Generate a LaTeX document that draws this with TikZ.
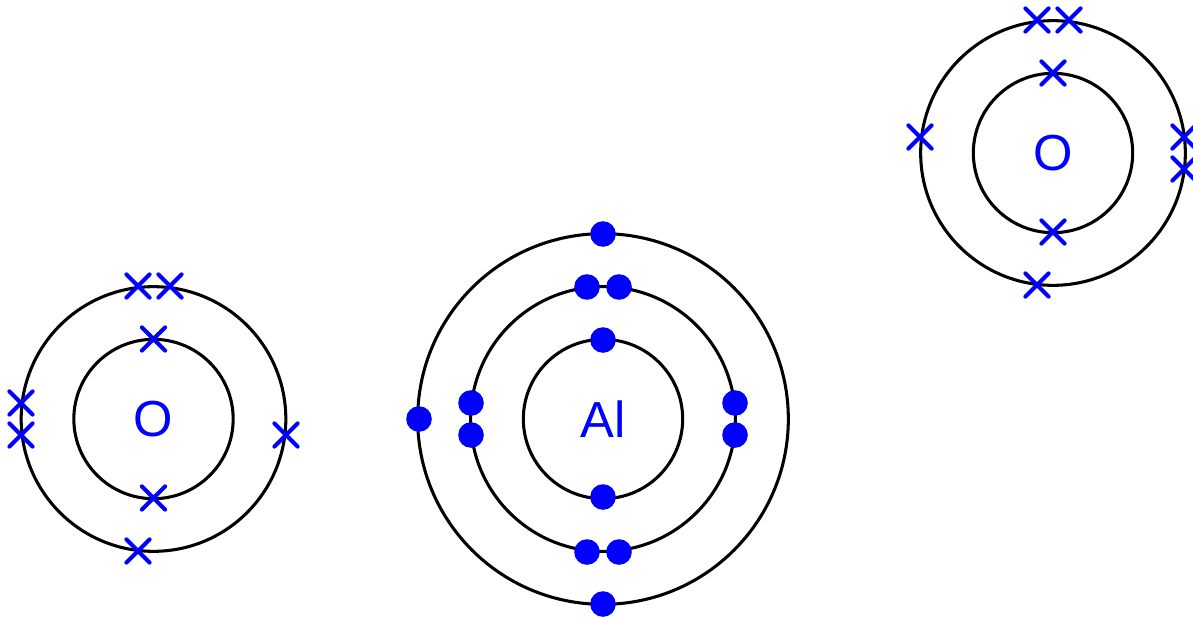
\documentclass[tikz,border=0pt]{standalone}
\usepackage{fontspec}
\setmainfont{Liberation Sans}
\usetikzlibrary{shapes.misc}
\definecolor{eblue}{RGB}{0,0,255}
\tikzset{
 shell/.style={circle,draw=black,line width=2.3pt,fill=none,inner sep=0pt,minimum size=#1},
 dotel/.style={circle,fill=eblue,inner sep=0pt,minimum size=19.2pt},
 crossel/.style={cross out,draw=eblue,line width=3pt,line cap=round,inner sep=0pt,minimum size=14.5pt},
 nuc/.style={text=eblue,font=\fontsize{38}{42}\selectfont,inner sep=0pt}
}
\begin{document}
\begin{tikzpicture}[x=0.75pt,y=-0.75pt]
\useasboundingbox (0,0) rectangle (1193,617);
% left O
\node[shell=119.5pt] (a1) at (153.5,419) {};
\node[shell=198.5pt] (a2) at (153.5,419) {};
\node[nuc] (aO) at (153.5,419) {O};
\foreach \n/\x/\y in {a/138/286,b/170/286,c/153.5/339,d/153.5/498,e/138/551,f/21/403,g/21/435,h/286/435}
  \node[crossel] (ax\n) at (\x,\y) {};
% Al
\node[shell=119.5pt] (b1) at (603,419) {};
\node[shell=198.5pt] (b2) at (603,419) {};
\node[shell=278pt] (b3) at (603,419) {};
\node[nuc] (bAl) at (603,419) {Al};
\foreach \n/\x/\y in {a/603/234,b/587/287,c/619/287,d/603/340,e/603/497,f/587/552,g/619/552,h/603/604,i/419/419,j/471/403,k/471/435,l/735/403,m/735/435}
  \node[dotel] (bd\n) at (\x,\y) {};
% right O
\node[shell=119.5pt] (c1) at (1053,153) {};
\node[shell=198.5pt] (c2) at (1053,153) {};
\node[nuc] (cO) at (1053,153) {O};
\foreach \n/\x/\y in {a/1037/20,b/1069/20,c/1053/73,d/1053/232,e/1037/285,f/920/137,g/1184/137,h/1184/169}
  \node[crossel] (cx\n) at (\x,\y) {};
\end{tikzpicture}
\end{document}
